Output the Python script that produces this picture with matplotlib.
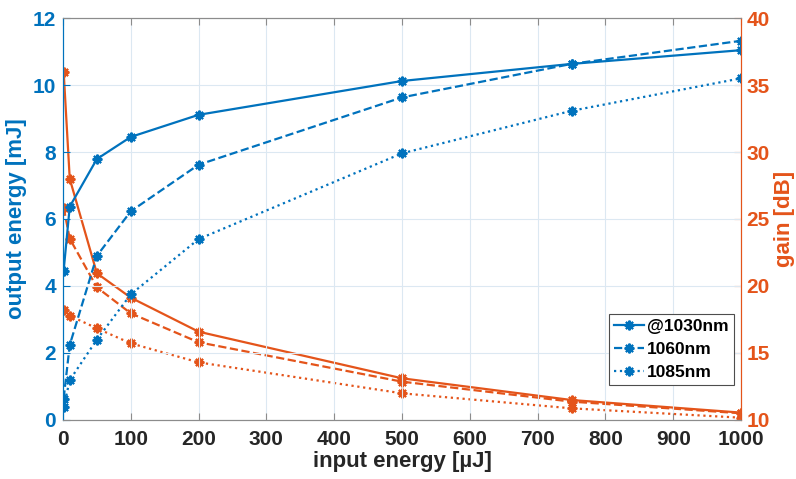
import matplotlib
matplotlib.use("Agg")
import matplotlib.pyplot as plt
from matplotlib.ticker import FixedLocator

plt.rcParams['font.family'] = ['Liberation Sans', 'DejaVu Sans']
plt.rcParams['font.weight'] = 'bold'

# input pulse energy [µJ]
input_energy = [1, 10, 50, 100, 200, 500, 750, 1000]

# output energy [mJ]
out_1030 = [4.46, 6.37, 7.79, 8.45, 9.11, 10.12, 10.63, 11.04]
out_1060 = [0.64, 2.24, 4.90, 6.23, 7.62, 9.63, 10.63, 11.32]
out_1085 = [0.38, 1.19, 2.40, 3.75, 5.40, 7.96, 9.23, 10.20]

# gain [dB]
gain_1030 = [36.0, 28.0, 20.95, 19.13, 16.59, 13.11, 11.49, 10.55]
gain_1060 = [25.84, 23.53, 19.90, 17.96, 15.80, 12.86, 11.37, 10.50]
gain_1085 = [18.2, 17.78, 16.84, 15.72, 14.30, 11.99, 10.87, 10.17]

series_labels = ['@1030nm', '1060nm', '1085nm']
line_styles = ['-', '--', ':']

x_ticks = list(range(0, 1001, 100))
left_ticks = list(range(0, 13, 2))
right_ticks = list(range(10, 41, 5))

BLUE = '#0072BD'
ORANGE = '#E4541A'
GRID = '#DCE8F2'
AXGRAY = '#8C8C8C'

fig = plt.figure(figsize=(7.96, 4.79), dpi=100)
ax = fig.add_axes([0.0791, 0.1232, 0.8519, 0.8392])
ax2 = ax.twinx()

lw = 1.6
# eight-armed asterisk marker
mk = dict(marker=(8, 2, 0), markersize=7, markeredgewidth=1.5)

handles = []
for y, ls, lab in zip([out_1030, out_1060, out_1085], line_styles, series_labels):
    h, = ax.plot(input_energy, y, ls, color=BLUE, lw=lw, label=lab, **mk)
    handles.append(h)

for y, ls in zip([gain_1030, gain_1060, gain_1085], line_styles):
    ax2.plot(input_energy, y, ls, color=ORANGE, lw=lw, **mk)

ax.set_xlim(0, 1000)
ax.set_ylim(0, 12)
ax2.set_ylim(10, 40)
ax.xaxis.set_major_locator(FixedLocator(x_ticks))
ax.yaxis.set_major_locator(FixedLocator(left_ticks))
ax2.yaxis.set_major_locator(FixedLocator(right_ticks))

ax.grid(True, color=GRID, lw=0.8)
ax.set_axisbelow(True)

for a in (ax, ax2):
    a.spines['top'].set_color(AXGRAY)
    a.spines['bottom'].set_color(AXGRAY)
    a.spines['left'].set_color(BLUE)
    a.spines['right'].set_color(ORANGE)
    for s in a.spines.values():
        s.set_linewidth(0.8)

ax.tick_params(axis='x', direction='in', top=True, colors=AXGRAY,
               labelcolor='#262626', labelsize=15, length=5, width=0.8, pad=7)
ax.tick_params(axis='y', direction='in', colors=BLUE, labelsize=15,
               length=5, width=0.8, pad=5)
ax2.tick_params(axis='y', direction='in', colors=ORANGE, labelsize=15,
                length=5, width=0.8, pad=4)

for lab in ax.get_xticklabels() + ax.get_yticklabels() + ax2.get_yticklabels():
    lab.set_fontweight('bold')

ax.set_xlabel('input energy [µJ]', fontsize=16, fontweight='bold',
              color='#262626', labelpad=2)
ax.set_ylabel('output energy [mJ]', fontsize=16, fontweight='bold',
              color=BLUE, labelpad=4)
ax2.set_ylabel('gain [dB]', fontsize=16, fontweight='bold',
               color=ORANGE, labelpad=3)

leg = ax.legend(handles=handles, loc='upper left',
                bbox_to_anchor=(0.805, 0.264),
                prop={'weight': 'bold', 'size': 12.5},
                frameon=True, fancybox=False, framealpha=1,
                edgecolor='#4D4D4D', handlelength=1.7, handletextpad=0.2,
                borderpad=0.3, labelspacing=0.45, borderaxespad=0)
leg.get_frame().set_linewidth(0.8)
ax.set_zorder(ax2.get_zorder() + 1)
ax.patch.set_visible(False)

fig.savefig('out.png', dpi=100)
